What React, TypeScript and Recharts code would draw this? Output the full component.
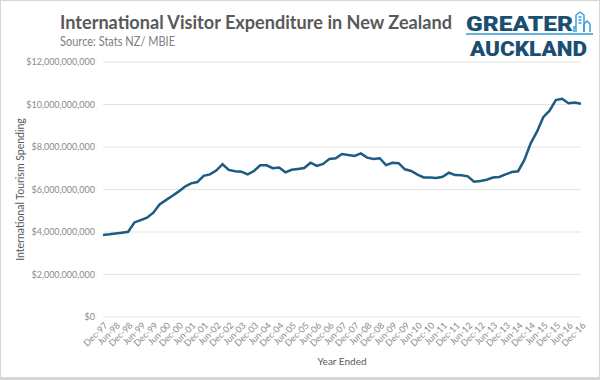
import { LineChart, Line, XAxis, YAxis, CartesianGrid } from 'recharts'

// quarter ended labels, Dec-97 .. Dec-16
const quarters = [
  'Dec-97',
  'Mar-98', 'Jun-98', 'Sep-98', 'Dec-98',
  'Mar-99', 'Jun-99', 'Sep-99', 'Dec-99',
  'Mar-00', 'Jun-00', 'Sep-00', 'Dec-00',
  'Mar-01', 'Jun-01', 'Sep-01', 'Dec-01',
  'Mar-02', 'Jun-02', 'Sep-02', 'Dec-02',
  'Mar-03', 'Jun-03', 'Sep-03', 'Dec-03',
  'Mar-04', 'Jun-04', 'Sep-04', 'Dec-04',
  'Mar-05', 'Jun-05', 'Sep-05', 'Dec-05',
  'Mar-06', 'Jun-06', 'Sep-06', 'Dec-06',
  'Mar-07', 'Jun-07', 'Sep-07', 'Dec-07',
  'Mar-08', 'Jun-08', 'Sep-08', 'Dec-08',
  'Mar-09', 'Jun-09', 'Sep-09', 'Dec-09',
  'Mar-10', 'Jun-10', 'Sep-10', 'Dec-10',
  'Mar-11', 'Jun-11', 'Sep-11', 'Dec-11',
  'Mar-12', 'Jun-12', 'Sep-12', 'Dec-12',
  'Mar-13', 'Jun-13', 'Sep-13', 'Dec-13',
  'Mar-14', 'Jun-14', 'Sep-14', 'Dec-14',
  'Mar-15', 'Jun-15', 'Sep-15', 'Dec-15',
  'Mar-16', 'Jun-16', 'Sep-16', 'Dec-16',
]

// annual visitor spend, $ billions
const spending = [
  3.86,
  3.89, 3.93, 3.97, 4.01,
  4.45, 4.56, 4.67, 4.91,
  5.30, 5.50, 5.69, 5.90,
  6.13, 6.29, 6.35, 6.64,
  6.71, 6.89, 7.19, 6.92,
  6.86, 6.84, 6.71, 6.87,
  7.14, 7.14, 7.00, 7.03,
  6.81, 6.93, 6.97, 7.01,
  7.26, 7.11, 7.20, 7.44,
  7.47, 7.67, 7.62, 7.58,
  7.70, 7.50, 7.44, 7.47,
  7.15, 7.26, 7.24, 6.95,
  6.87, 6.70, 6.57, 6.57,
  6.54, 6.60, 6.79, 6.68,
  6.67, 6.62, 6.37, 6.40,
  6.46, 6.56, 6.59, 6.71,
  6.82, 6.86, 7.39, 8.17,
  8.72, 9.40, 9.71, 10.21,
  10.27, 10.06, 10.09, 10.04,
]

const yTicks = [0, 2, 4, 6, 8, 10, 12]

const TITLE = '#595959'
const SUB = '#7f7f7f'
const TICK = '#8a8a8a'
const LINE = '#1b5c82'
const DARK_BLUE = '#1b4f72'
const LIGHT_BLUE = '#2f9bd6'
const FONT = 'Lato, "Open Sans", sans-serif'

const data = quarters.map((q, i) => ({ quarter: q, value: spending[i] }))

const dollars = (v: number) => '$' + (v * 1e9).toLocaleString('en-US')

function QuarterTick({ x, y, payload }: { x?: number; y?: number; payload?: { value: string } }) {
  const tx = (x ?? 0) + 3
  const ty = (y ?? 0) - 1
  return (
    <text
      x={tx}
      y={ty}
      dy={3}
      transform={`rotate(-45, ${tx}, ${ty})`}
      textAnchor="end"
      fill={TICK}
      fontSize={9}
      fontFamily={FONT}
    >
      {payload?.value}
    </text>
  )
}

function Header() {
  return (
    <svg width={600} height={70} style={{ position: 'absolute', left: 0, top: 0 }}>
      <text x={60} y={29} fill={TITLE} fontSize={18.5} fontWeight={700} fontFamily={FONT}
        textLength={392} lengthAdjust="spacingAndGlyphs">
        International Visitor Expenditure in New Zealand
      </text>
      <text x={60} y={46} fill={SUB} fontSize={13.5} fontFamily={FONT}
        textLength={115} lengthAdjust="spacingAndGlyphs">
        Source: Stats NZ/ MBIE
      </text>

      {/* logo */}
      <text x={466} y={31} fill={DARK_BLUE} fontSize={20} fontWeight={900} fontFamily="Roboto, sans-serif"
        textLength={107} lengthAdjust="spacingAndGlyphs">
        GREATER
      </text>
      <g fill="none" stroke={LIGHT_BLUE} strokeWidth={1.4}>
        <path d="M576 32 V15 L580 12 L584 15 V32" />
        <path d="M578.5 17 h3 M578.5 20 h3 M578.5 23 h3" />
        <path d="M584 32 V24 L587 21 L590 24 V32" />
        <path d="M574 32 V27 h2" />
      </g>
      <line x1={466} y1={34} x2={593} y2={34} stroke={LIGHT_BLUE} strokeWidth={1.6} />
      <text x={470} y={56} fill={DARK_BLUE} fontSize={20} fontWeight={900} fontFamily="Roboto, sans-serif"
        textLength={117} lengthAdjust="spacingAndGlyphs">
        AUCKLAND
      </text>
    </svg>
  )
}

export default function App() {
  return (
    <div style={{
      position: 'absolute', left: 0, top: 0, width: 600, height: 380,
      background: '#fff', fontFamily: FONT,
    }}>
      <LineChart width={600} height={380} data={data}
        margin={{ top: 62, right: 19, left: 8, bottom: 13 }}>
        <CartesianGrid stroke="#e3e3e3" vertical={false} />
        <XAxis
          dataKey="quarter"
          scale="point"
          padding={{ left: 0, right: 0 }}
          interval={1}
          tick={<QuarterTick />}
          tickLine={false}
          axisLine={false}
          height={50}
          label={{ value: 'Year Ended', position: 'insideBottom', offset: 2, fill: TITLE, fontSize: 10, fontFamily: FONT }}
        />
        <YAxis
          domain={[0, 12]}
          ticks={yTicks}
          tickFormatter={dollars}
          tick={{ fill: TICK, fontSize: 9, fontFamily: FONT }}
          tickLine={false}
          axisLine={false}
          width={95}
          label={{ value: 'International Tourism Spending', angle: -90, position: 'insideLeft', offset: 12, fill: TITLE, fontSize: 10.5, fontFamily: FONT, style: { textAnchor: 'middle' } }}
        />
        <Line
          type="linear"
          dataKey="value"
          stroke={LINE}
          strokeWidth={2.5}
          dot={false}
          isAnimationActive={false}
        />
      </LineChart>
      <Header />
      <div style={{
        position: 'absolute', left: 0, top: 0, width: 600, height: 380, boxSizing: 'border-box',
        border: '1px solid #d6d6d6', borderBottomWidth: 3, pointerEvents: 'none',
      }} />
    </div>
  )
}
